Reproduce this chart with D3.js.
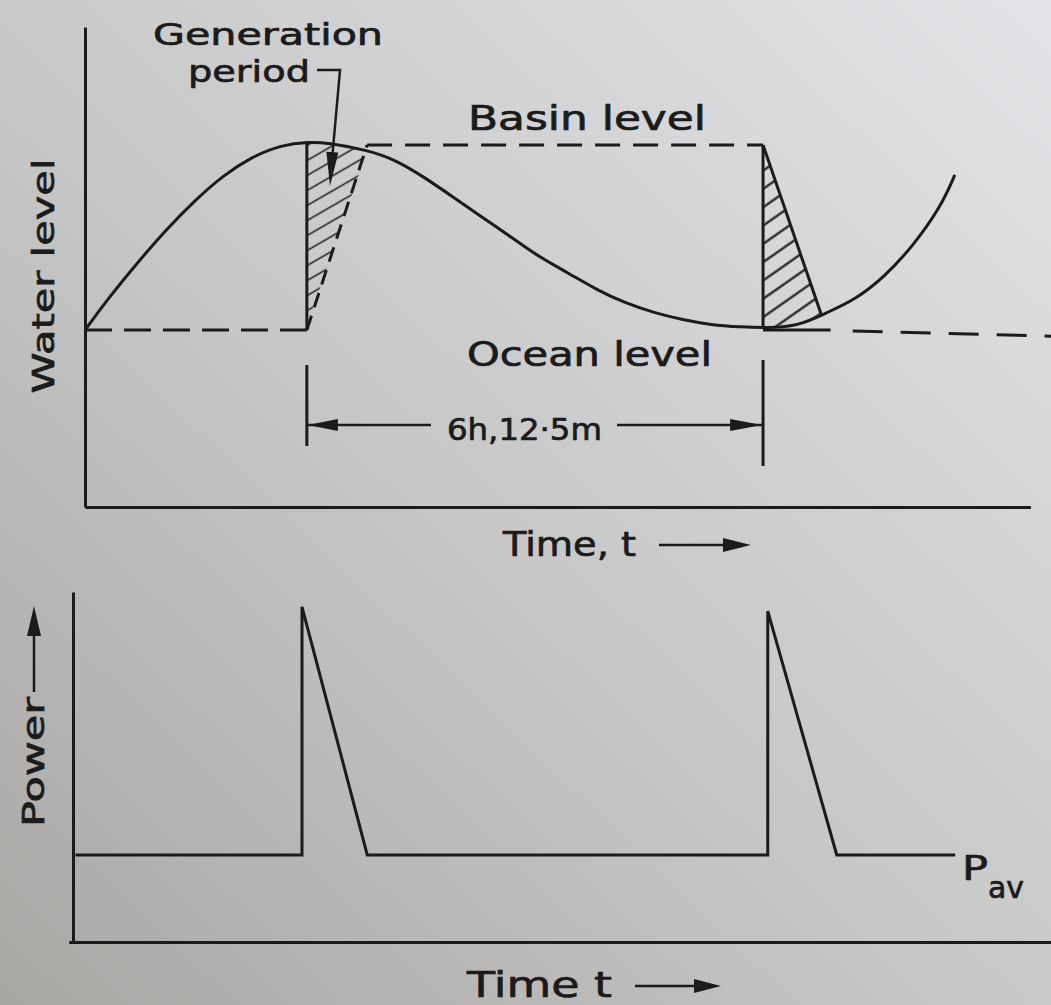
<!DOCTYPE html>
<html>
<head>
<meta charset="utf-8">
<script src="https://cdn.jsdelivr.net/npm/d3@7/dist/d3.min.js"></script>
<style>
  html, body { margin: 0; padding: 0; background: #c8c8c8; }
  svg { display: block; }
  text { font-family: "DejaVu Sans", "Noto Sans", sans-serif; fill: #1b1b1b; stroke: #1b1b1b; stroke-width: 0.7px; }
</style>
</head>
<body>
<svg id="chart" width="1051" height="1005"></svg>
<script>
// ---------------- DATA (time in hours, levels / power in relative units) ----------------
// Tidal (ocean) water level curve
const tideTime  = [0, 0.33, 0.71, 1.10, 1.50, 1.89, 2.27, 2.67, 3.06, 3.29, 3.84, 4.23, 4.61, 5.01, 5.40, 5.80, 6.18, 6.58, 6.97, 7.35, 7.75, 8.14, 8.52, 8.92, 9.31, 9.71, 10.09, 10.48, 10.88, 11.26, 11.65, 11.84];
const tideLevel = [0, 0.175, 0.356, 0.532, 0.691, 0.824, 0.920, 0.984, 1.000, 0.995, 0.957, 0.904, 0.814, 0.707, 0.601, 0.495, 0.388, 0.303, 0.213, 0.144, 0.091, 0.054, 0.027, 0.016, 0.011, 0.022, 0.091, 0.160, 0.282, 0.441, 0.654, 0.824];
const oceanLevel = 0;
const basinLevel = 0.983;
// Key instants
const genStart  = [3.02, 9.23];   // gates / turbines open
const fillEnd   = 3.84;           // basin reaches basin level
const genEnd    = 10.02;          // generation ends (basin meets ocean)
// Power output
const powerTime  = [0, 3.02, 3.02, 3.89, 9.23, 9.23, 10.15, 11.73];
const powerValue = [1, 1, 3.85, 1, 1, 3.80, 1, 1];
const pAv = 1;
// Labels
const labels = {
  gen1: "Generation", gen2: "period", basin: "Basin level", ocean: "Ocean level",
  dim: "6h,12·5m", time1: "Time, t", yTop: "Water level", yBot: "Power",
  time2: "Time t", pav: "P", pavSub: "av"
};

// ---------------- SETUP ----------------
const svg = d3.select("#chart");
const ink = "#1b1b1b";
const defs = svg.append("defs");

// paper background (photographed page)
const bg = defs.append("linearGradient").attr("id", "paper")
  .attr("x1", 0).attr("y1", 1).attr("x2", 1).attr("y2", 0);
bg.append("stop").attr("offset", "0%").attr("stop-color", "#a9a7a4");
bg.append("stop").attr("offset", "45%").attr("stop-color", "#c6c6c6");
bg.append("stop").attr("offset", "100%").attr("stop-color", "#e4e4e8");
svg.append("rect").attr("width", 1051).attr("height", 1005).attr("fill", "url(#paper)");

// hatch patterns
function hatch(id, spacing, angle, sw) {
  const p = defs.append("pattern").attr("id", id)
    .attr("patternUnits", "userSpaceOnUse")
    .attr("width", spacing).attr("height", spacing)
    .attr("patternTransform", `rotate(${angle})`);
  p.append("line").attr("x1", 0).attr("x2", spacing)
    .attr("y1", spacing / 2).attr("y2", spacing / 2)
    .attr("stroke", ink).attr("stroke-width", sw);
}
hatch("hatchL", 13, -30, 1.5);
hatch("hatchR", 15, -35, 2.2);

function arrowHead(g, tipX, tipY, angleDeg, len, halfW) {
  const a = angleDeg * Math.PI / 180;
  const bx = tipX - len * Math.cos(a), by = tipY - len * Math.sin(a);
  const px = -Math.sin(a) * halfW, py = Math.cos(a) * halfW;
  g.append("path")
    .attr("d", `M${tipX},${tipY}L${bx + px},${by + py}L${bx - px},${by - py}Z`)
    .attr("fill", ink);
}

// ---------------- TOP CHART: water level ----------------
const xT = d3.scaleLinear().domain([0, 13]).range([85, 1040]);
const yT = d3.scaleLinear().domain([-0.94, 1.61]).range([507, 27]);
const gTop = svg.append("g");

// axes
const xAxisT = d3.scaleLinear().domain([0, 12.87]).range([xT(0), xT(12.87)]);
gTop.append("g").attr("transform", `translate(0,${yT(-0.94)})`)
  .call(d3.axisBottom(xAxisT).tickValues([]).tickSizeOuter(0))
  .call(g => g.select(".domain").attr("stroke", ink).attr("stroke-width", 3));
gTop.append("g").attr("transform", `translate(${xT(0)},0)`)
  .call(d3.axisLeft(yT).tickValues([]).tickSizeOuter(0))
  .call(g => g.select(".domain").attr("stroke", ink).attr("stroke-width", 3));

// hatched regions
const poly = d3.line().x(d => xT(d[0])).y(d => yT(d[1]));
gTop.append("path")
  .attr("d", poly([[genStart[0], oceanLevel + 0.02], [genStart[0], 0.995], [3.29, 0.993], [3.6, 0.975], [fillEnd, 0.955]]) + "Z")
  .attr("fill", "url(#hatchL)");
gTop.append("path")
  .attr("d", poly([[genStart[1], basinLevel], [genEnd, 0.085], [9.71, 0.025], [9.31, 0.013], [genStart[1], 0.013]]) + "Z")
  .attr("fill", "url(#hatchR)");

// tide curve
const tide = d3.zip(tideTime, tideLevel);
gTop.append("path")
  .attr("d", d3.line().x(d => xT(d[0])).y(d => yT(d[1])).curve(d3.curveBasis)(tide))
  .attr("fill", "none").attr("stroke", ink).attr("stroke-width", 3);

// dashed ocean/basin lines
function seg(g, t1, v1, t2, v2, dash, sw) {
  g.append("line").attr("x1", xT(t1)).attr("y1", yT(v1)).attr("x2", xT(t2)).attr("y2", yT(v2))
    .attr("stroke", ink).attr("stroke-width", sw || 3).attr("stroke-dasharray", dash || null);
}
seg(gTop, 0, oceanLevel, genStart[0], oceanLevel, "27,12");
seg(gTop, genStart[0], oceanLevel, fillEnd, basinLevel, "15,9");
seg(gTop, fillEnd, basinLevel, genStart[1], basinLevel, "25,13");
seg(gTop, genStart[1], oceanLevel, 10.15, oceanLevel);
seg(gTop, 10.45, oceanLevel - 0.005, 13.4, oceanLevel - 0.035, "30,18");

// solid gate lines
seg(gTop, genStart[0], oceanLevel, genStart[0], 0.995);
seg(gTop, genStart[1], basinLevel, genStart[1], 0.012);
seg(gTop, genStart[1], basinLevel, genEnd, 0.085);

// labels
function txt(g, s, x, y, size, len, anchor) {
  const t = g.append("text").attr("x", x).attr("y", y).attr("font-size", size)
    .attr("text-anchor", anchor || "start").text(s);
  if (len) t.attr("textLength", len).attr("lengthAdjust", "spacingAndGlyphs");
  return t;
}
txt(gTop, labels.gen1, 153, 45, 31, 230);
txt(gTop, labels.gen2, 188, 82, 31, 122);
txt(gTop, labels.basin, 468, 130, 33, 238);
txt(gTop, labels.ocean, 467, 366, 33, 245);
txt(gTop, labels.dim, 447, 440, 30, 155);
txt(gTop, labels.time1, 503, 556, 34, 133);
gTop.append("text").attr("transform", "translate(54,276) rotate(-90)")
  .attr("text-anchor", "middle").attr("font-size", 31)
  .attr("textLength", 235).attr("lengthAdjust", "spacingAndGlyphs")
  .text(labels.yTop);

// generation period leader
gTop.append("path").attr("d", "M317,70L340,70L332,160")
  .attr("fill", "none").attr("stroke", ink).attr("stroke-width", 2.5);
arrowHead(gTop, 330, 186, 94, 34, 6);

// dimension 6h 12.5m
seg(gTop, genStart[0], yT.invert(365), genStart[0], yT.invert(446), null, 3);
seg(gTop, genStart[1], yT.invert(360), genStart[1], yT.invert(466), null, 3);
gTop.append("line").attr("x1", xT(genStart[0])).attr("x2", 431).attr("y1", 425).attr("y2", 425)
  .attr("stroke", ink).attr("stroke-width", 2.5);
gTop.append("line").attr("x1", 617).attr("x2", xT(genStart[1])).attr("y1", 425).attr("y2", 425)
  .attr("stroke", ink).attr("stroke-width", 2.5);
arrowHead(gTop, xT(genStart[0]) + 1, 425, 180, 30, 6);
arrowHead(gTop, xT(genStart[1]) - 1, 425, 0, 32, 6);

// time arrow
gTop.append("line").attr("x1", 659).attr("x2", 730).attr("y1", 545).attr("y2", 545)
  .attr("stroke", ink).attr("stroke-width", 2.5);
arrowHead(gTop, 751, 545, 0, 28, 7);

// ---------------- BOTTOM CHART: power ----------------
const xB = d3.scaleLinear().domain([0, 13]).range([75.5, 1050.5]);
const yB = d3.scaleLinear().domain([0, 4.02]).range([942, 592]);
const gBot = svg.append("g");

gBot.append("g").attr("transform", `translate(0,${yB(0)})`)
  .call(d3.axisBottom(d3.scaleLinear().domain([-0.05, 13]).range([xB(-0.05) - 3, 1051])).tickValues([]).tickSizeOuter(0))
  .call(g => g.select(".domain").attr("stroke", ink).attr("stroke-width", 3));
gBot.append("g").attr("transform", `translate(${xB(0) - 2.5},0)`)
  .call(d3.axisLeft(yB).tickValues([]).tickSizeOuter(0))
  .call(g => g.select(".domain").attr("stroke", ink).attr("stroke-width", 3));

gBot.append("path")
  .attr("d", d3.line().x(d => xB(d[0])).y(d => yB(d[1]))(d3.zip(powerTime, powerValue)))
  .attr("fill", "none").attr("stroke", ink).attr("stroke-width", 3).attr("stroke-linejoin", "miter");

txt(gBot, labels.pav, 962, 880, 34, 26);
txt(gBot, labels.pavSub, 988, 898, 30, 36);
txt(gBot, labels.time2, 467, 997, 36, 145);
gBot.append("text").attr("transform", "translate(44,762) rotate(-90)")
  .attr("text-anchor", "middle").attr("font-size", 31)
  .attr("textLength", 130).attr("lengthAdjust", "spacingAndGlyphs")
  .text(labels.yBot);
gBot.append("line").attr("x1", 34).attr("x2", 34).attr("y1", 692).attr("y2", 630)
  .attr("stroke", ink).attr("stroke-width", 2.5);
arrowHead(gBot, 34, 606, -90, 30, 7);
gBot.append("line").attr("x1", 635).attr("x2", 700).attr("y1", 986).attr("y2", 986)
  .attr("stroke", ink).attr("stroke-width", 2.5);
arrowHead(gBot, 721, 986, 0, 27, 7);
</script>
</body>
</html>
